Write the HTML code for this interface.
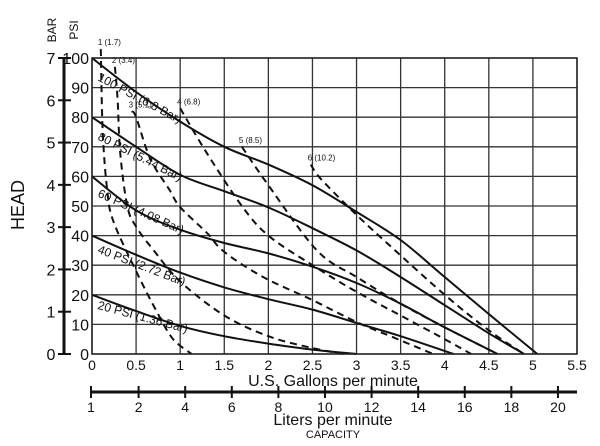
<!DOCTYPE html>
<html><head><meta charset="utf-8"><style>
body{margin:0;background:#fff;}
svg{display:block;font-family:"Liberation Sans",sans-serif;}
</style></head><body>
<svg id="chart" width="600" height="446" viewBox="0 0 600 446"></svg>
<script>
const xTicks=[0,0.5,1,1.5,2,2.5,3,3.5,4,4.5,5,5.5];
const xTickLabels=["0","0.5","1","1.5","2","2.5","3","3.5","4","4.5","5","5.5"];
const psiTicks=[0,10,20,30,40,50,60,70,80,90,100];
const barTicks=[0,1,2,3,4,5,6,7];
const literTicks=[0,2,4,6,8,10,12,14,16,18,20];
const literLabels=["1","2","4","6","8","10","12","14","16","18","20"];
const curveNames=["100 PSI (6.8 Bar)","80 PSI (5.44 Bar)","60 PSI (4.08 Bar)","40 PSI (2.72 Bar)","20 PSI (1.36 Bar)"];
const curve100=[[0,100],[0.5,88.5],[1,78.5],[1.5,70],[2,64],[2.5,57],[3,48],[3.5,38.5],[4,26],[4.5,13.5],[5.05,0]];
const curve80=[[0,80],[0.5,70],[1,60.5],[1.5,55],[2,49.5],[2.5,42.5],[3,35],[3.5,26],[4,16.5],[4.5,7],[4.9,0]];
const curve60=[[0,60],[0.5,48.5],[1,42],[1.5,37.5],[2,34],[2.5,29.5],[3,24],[3.5,17],[4,9],[4.6,0]];
const curve40=[[0,40],[0.5,33.5],[1,27.5],[1.5,22.5],[2,18.5],[2.5,15],[3,10.5],[3.5,6],[4.1,0]];
const curve20=[[0,20],[0.5,14.5],[1,9.5],[1.5,6],[2,3.5],[2.5,1.5],[3,0]];
const airLabels=["1 (1.7)","2 (3.4)","3 (5.1)","4 (6.8)","5 (8.5)","6 (10.2)"];
const air1=[[0.1,103],[0.12,76],[0.17,56],[0.24,45],[0.5,28],[0.74,14],[0.92,5],[1.13,0]];
const air2=[[0.26,97],[0.29,86],[0.32,68],[0.4,50],[0.5,43],[0.7,35],[1.0,24.5],[1.5,13],[2,6],[2.5,2],[2.85,0]];
const air3=[[0.45,82],[0.5,80],[0.66,66],[0.88,55.4],[1.0,49.6],[1.3,41],[1.5,34.5],[1.94,26],[2.5,18.2],[3,10.8],[3.41,5.7],[3.87,0]];
const air4=[[1.0,83],[1.3,68],[1.7,50],[2.0,40],[2.5,30],[3,21],[3.5,13],[4.0,5],[4.3,0]];
const air5=[[1.7,70],[2.0,57],[2.55,35],[3,26],[3.5,17],[4,9],[4.6,0]];
const air6=[[2.48,64],[2.6,59],[3,47],[3.4,36],[4,20],[4.5,8],[4.9,0]];

const X0=92,X1=577,Y0=354,Y1=58;
const xs=g=>X0+g/5.5*(X1-X0);
const ys=p=>Y0-p/100*(Y0-Y1);
const yb=b=>Y0-b/7*(Y0-Y1);
const xl=l=>l===0?X0-1:X0+l*0.2642*(X1-X0)/5.5;
const svg=document.getElementById('chart');
const NS='http://www.w3.org/2000/svg';
function mk(tag,attrs,parent){const e=document.createElementNS(NS,tag);for(const k in attrs)e.setAttribute(k,attrs[k]);(parent||svg).appendChild(e);return e;}
function txt(s,x,y,size,anchor,parent){const t=mk('text',{x:x,y:y,'font-size':size,'text-anchor':anchor||'middle',fill:'#111'},parent);t.textContent=s;return t;}

const grid=mk('g',{stroke:'#333','stroke-width':1.3});


xTicks.forEach(v=>{const l=mk('line',{x1:xs(v),x2:xs(v),y1:Y1,y2:Y0},grid);});
psiTicks.forEach(v=>{const l=mk('line',{x1:X0,x2:X1,y1:ys(v),y2:ys(v)},grid);});

xTicks.forEach((v,i)=>{const t=txt(xTickLabels[i],xs(v),370,14);});
const xt=txt('U.S. Gallons per minute',333,386,16);


psiTicks.forEach(v=>{const t=txt(String(v),89,ys(v)+6,16,'end');});
const barAxis=mk('line',{x1:64,x2:64,y1:Y1,y2:Y0,stroke:'#111','stroke-width':3});


barTicks.forEach(v=>{const l=mk('line',{x1:58,x2:71,y1:yb(v),y2:yb(v),stroke:'#111','stroke-width':2});
const t=txt(String(v),51,yb(v)+6,16,'middle');});
const bt=txt('BAR',0,0,12);bt.setAttribute('transform','translate(56,30) rotate(-90)');


const pt=txt('PSI',0,0,12);pt.setAttribute('transform','translate(78,30) rotate(-90)');


const ht=txt('HEAD',0,0,18);ht.setAttribute('transform','translate(24,205) rotate(-90)');



const la=mk('line',{x1:X0-1,x2:X1,y1:392,y2:392,stroke:'#111','stroke-width':3});


literTicks.forEach((v,i)=>{const l=mk('line',{x1:xl(v),x2:xl(v),y1:386,y2:398,stroke:'#111','stroke-width':2});
const t=txt(literLabels[i],xl(v),412,14);});
const lt=txt('Liters per minute',333,425,16);


const ct=txt('CAPACITY',333,438,11);



function smoothD(pts){const P=pts.map(p=>[xs(p[0]),ys(p[1])]);let d='M'+P[0][0].toFixed(1)+' '+P[0][1].toFixed(1);
for(let i=0;i<P.length-1;i++){const p0=P[i-1]||P[i],p1=P[i],p2=P[i+1],p3=P[i+2]||P[i+1];
const c1=[p1[0]+(p2[0]-p0[0])/6,p1[1]+(p2[1]-p0[1])/6],c2=[p2[0]-(p3[0]-p1[0])/6,p2[1]-(p3[1]-p1[1])/6];
d+=' C'+c1.map(v=>v.toFixed(1)).join(' ')+' '+c2.map(v=>v.toFixed(1)).join(' ')+' '+p2[0].toFixed(1)+' '+p2[1].toFixed(1);}return d;}

const airSeries=[air1,air2,air3,air4,air5,air6];
const airNames=['air-line-1','air-line-2','air-line-3','air-line-4','air-line-5','air-line-6'];
airSeries.forEach((s,i)=>{const p=mk('path',{d:smoothD(s),fill:'none',stroke:'#111','stroke-width':2,'stroke-dasharray':'7 5'});


const t=txt(airLabels[i],xs(s[0][0])-3,ys(s[0][1])-4,8,'start');

});

const curves=[curve100,curve80,curve60,curve40,curve20];
const curveIds=['curve-100-psi','curve-80-psi','curve-60-psi','curve-40-psi','curve-20-psi'];
const labelAngles=[28,27,24,21,15];
const labelDrop=[22,22,20,17,14];
curves.forEach((c,i)=>{const p=mk('path',{d:smoothD(c),fill:'none',stroke:'#111','stroke-width':2});


const t=txt(curveNames[i],0,0,12,'start');
t.setAttribute('transform','translate('+(X0+5)+','+(ys(c[0][1])+labelDrop[i])+') rotate('+labelAngles[i]+')');

});

const border=mk('rect',{x:X0,y:Y1,width:X1-X0,height:Y0-Y1,fill:'none',stroke:'#222','stroke-width':1.5});


</script>
</body></html>
